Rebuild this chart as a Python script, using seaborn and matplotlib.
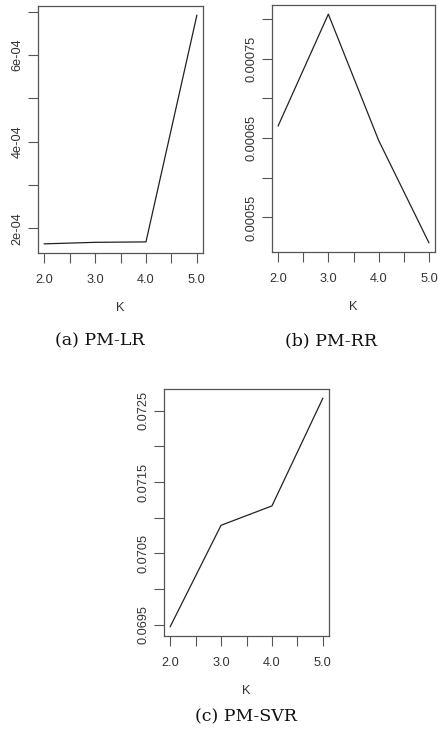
import matplotlib
matplotlib.use("Agg")
import matplotlib.pyplot as plt
import seaborn as sns
import pandas as pd
import numpy as np

sns.set_style("white")
plt.rcParams['font.family'] = ['Liberation Sans', 'DejaVu Sans']

K = [2, 3, 4, 5]
lr_vals = [1.645e-4, 1.68e-4, 1.69e-4, 6.92e-4]
rr_vals = [0.000665, 0.000806, 0.000647, 0.000518]
svr_vals = [0.06947, 0.070894, 0.071166, 0.072677]

x_major = [2.0, 3.0, 4.0, 5.0]
x_labels = ["2.0", "3.0", "4.0", "5.0"]

lr_ticks = [2e-4, 3e-4, 4e-4, 5e-4, 6e-4, 7e-4]
lr_labels = ["2e-04", "", "4e-04", "", "6e-04", ""]
rr_ticks = [0.00055, 0.00060, 0.00065, 0.00070, 0.00075, 0.00080]
rr_labels = ["0.00055", "", "0.00065", "", "0.00075", ""]
svr_ticks = [0.0695, 0.0700, 0.0705, 0.0710, 0.0715, 0.0720, 0.0725]
svr_labels = ["0.0695", "", "0.0705", "", "0.0715", "", "0.0725"]

captions = ["(a) PM-LR", "(b) PM-RR", "(c) PM-SVR"]

W, H = 438, 733
fig = plt.figure(figsize=(W / 100, H / 100), dpi=100)

def px_axes(left, right, top, bottom):
    return fig.add_axes([left / W, 1 - bottom / H, (right - left) / W, (bottom - top) / H])

panels = [
    (px_axes(38, 203, 6, 253), lr_vals, lr_ticks, lr_labels, captions[0], 100, 341),
    (px_axes(272, 435, 5, 252), rr_vals, rr_ticks, rr_labels, captions[1], 331, 341),
    (px_axes(164, 329, 389, 636), svr_vals, svr_ticks, svr_labels, captions[2], 246, 717),
]

edge = "#555555"
txt = "#333333"
for ax, vals, yt, yl, cap, cx, cy in panels:
    df = pd.DataFrame({"K": K, "v": vals})
    sns.lineplot(data=df, x="K", y="v", ax=ax, color="#222222", linewidth=0.9)
    xr = max(K) - min(K)
    ax.set_xlim(min(K) - 0.04 * xr, max(K) + 0.04 * xr)
    yr = max(vals) - min(vals)
    ax.set_ylim(min(vals) - 0.04 * yr, max(vals) + 0.04 * yr)
    xt = np.arange(2.0, 5.01, 0.5)
    ax.set_xticks(xt)
    ax.set_xticklabels([f"{v:.1f}" if v in x_major else "" for v in xt])
    ax.set_yticks(yt)
    ax.set_yticklabels(yl, rotation=90, va="center")
    ax.tick_params(axis="both", direction="out", length=7, width=0.8, color=edge,
                   labelsize=9.2, labelcolor=txt, left=True, bottom=True)
    ax.tick_params(axis="x", pad=8)
    ax.tick_params(axis="y", pad=3.5)
    for s in ax.spines.values():
        s.set_color(edge)
        s.set_linewidth(0.9)
    ax.set_ylabel("")
    ax.set_xlabel("K", fontsize=9.2, color=txt)
    bb = ax.get_position()
    hpx = bb.height * H
    ax.xaxis.set_label_coords(0.5, -55 / hpx)
    ax.xaxis.label.set_va("center")
    fig.text(cx / W, 1 - cy / H, cap, ha="center", va="center",
             fontsize=12.5, family=["DejaVu Serif"], color="#111111")

fig.savefig("out.png", dpi=100)
